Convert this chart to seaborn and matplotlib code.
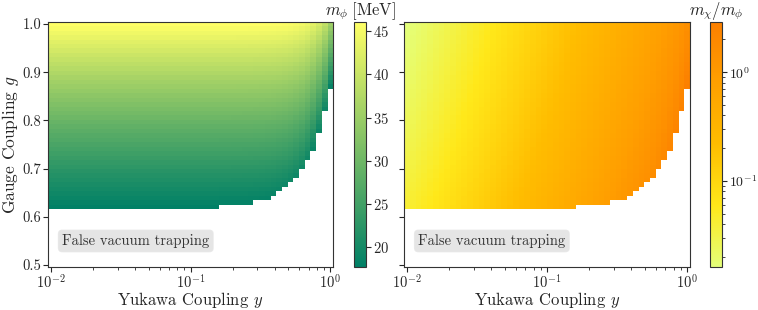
import numpy as np
import matplotlib
matplotlib.use("Agg")
import matplotlib.pyplot as plt
from matplotlib.colors import LogNorm
from matplotlib.ticker import FormatStrFormatter, LogLocator, NullFormatter
import seaborn as sns

# ---------------- data ----------------
# grid: Yukawa coupling (log-spaced columns) and gauge coupling (rows)
yukawa = np.logspace(-2, 0, 50)
gauge = np.linspace(0.5, 1.0, 55)

# index of the lowest non-trapped gauge row for every Yukawa column
first_row = [13] * 30 + [14] * 6 + [15] * 3 + [16, 17, 18, 19, 20, 22, 24, 26, 30, 35, 40]

# m_phi [MeV] at small Yukawa coupling, one value per gauge row
mphi_vs_g = [np.nan] * 13 + [
    17.7, 18.28, 18.82, 19.37, 19.92, 20.49, 21.06, 21.64, 22.23, 22.83,
    23.43, 24.05, 24.67, 25.30, 25.93, 26.58, 27.23, 27.89, 28.56, 29.23,
    29.92, 30.61, 31.31, 32.01, 32.73, 33.45, 34.18, 34.92, 35.67, 36.42,
    37.19, 37.96, 38.74, 39.52, 40.32, 41.12, 41.93, 42.75, 43.57, 44.41,
    45.25, 46.10]

# reduction of m_phi^2 [MeV^2] growing with the Yukawa coupling, per column
mphi_sq_drop = [0.0] * 30 + [
    0.7, 1.0, 1.5, 2.1, 3.1, 4.6, 6.6, 9.7, 14.0, 20.5,
    30.0, 43.0, 63.0, 92.0, 134.0, 196.0, 285.0, 415.0, 604.0, 880.0]

# m_chi [MeV] per Yukawa column
mchi = [
    0.740, 0.808, 0.881, 0.962, 1.050, 1.146, 1.250, 1.364, 1.489, 1.625,
    1.774, 1.936, 2.112, 2.306, 2.516, 2.746, 2.997, 3.270, 3.569, 3.895,
    4.251, 4.639, 5.062, 5.525, 6.029, 6.580, 7.181, 7.836, 8.553, 9.333,
    10.19, 11.12, 12.13, 13.24, 14.45, 15.77, 17.21, 18.78, 20.50, 22.37,
    24.41, 26.65, 29.08, 31.73, 34.63, 37.79, 41.25, 45.01, 49.12, 53.61]

# ---------------- assemble fields ----------------
base = np.array(mphi_vs_g)[:, None] ** 2 - np.array(mphi_sq_drop)[None, :]
rows = np.arange(len(gauge))[:, None]
trapped = rows < np.array(first_row)[None, :]
mphi = np.ma.masked_where(trapped | np.isnan(base), np.sqrt(np.where(base > 0, base, np.nan)))
ratio = np.ma.masked_where(np.ma.getmaskarray(mphi), np.array(mchi)[None, :] / mphi.filled(1.0))

# ---------------- style ----------------
sns.set_style("ticks")
plt.rcParams.update({
    "font.family": "serif",
    "font.serif": ["cmr10", "DejaVu Serif"],
    "mathtext.fontset": "cm",
    "axes.formatter.use_mathtext": True,
    "axes.unicode_minus": False,
    "xtick.labelsize": 10.5,
    "ytick.labelsize": 10.5,
    "xtick.major.size": 3.5,
    "ytick.major.size": 3.5,
    "xtick.minor.size": 2,
    "ytick.minor.size": 2,
    "xtick.major.pad": 1.0,
    "ytick.major.pad": 1.5,
    "axes.edgecolor": "0.2",
    "xtick.color": "0.15",
    "ytick.color": "0.15",
})

cmap_l = sns.color_palette("summer", as_cmap=True)
cmap_r = sns.color_palette("Wistia", as_cmap=True)

fig = plt.figure(figsize=(7.58, 3.10), dpi=100)
bot, hei = 0.138, 0.792
ax1 = fig.add_axes([0.0633, bot, 0.376, hei])
cax1 = fig.add_axes([0.467, bot, 0.0165, hei])
ax2 = fig.add_axes([0.533, bot, 0.377, hei])
cax2 = fig.add_axes([0.9367, bot, 0.0163, hei])

for ax in (ax1, ax2):
    ax.set_xscale("log")

m1 = ax1.pcolormesh(yukawa, gauge, mphi, cmap=cmap_l, shading="nearest",
                    antialiased=True, linewidth=0)
m2 = ax2.pcolormesh(yukawa, gauge, ratio, cmap=cmap_r, shading="nearest",
                    norm=LogNorm(vmin=ratio.min(), vmax=ratio.max()),
                    antialiased=True, linewidth=0)

yt = [0.5, 0.6, 0.7, 0.8, 0.9, 1.0]
for ax in (ax1, ax2):
    ax.set_yticks(yt)
    ax.yaxis.set_major_formatter(FormatStrFormatter("%.1f"))
    ax.set_xlabel(r"Yukawa Coupling $y$", fontsize=12, labelpad=-1)
    ax.text(0.05, 0.107, "False vacuum trapping", transform=ax.transAxes,
            fontsize=10.5, ha="left", va="center", color="0.2",
            bbox=dict(boxstyle="round", facecolor="gray", alpha=0.2))
ax2.set_yticklabels([])
ax1.set_ylabel(r"Gauge Coupling $g$", fontsize=12.5, labelpad=1)

cb1 = fig.colorbar(m1, cax=cax1)
cb1.set_ticks([20, 25, 30, 35, 40, 45])
cb1.ax.tick_params(labelsize=10.5)
cax1.set_title(r"$m_\phi\;[\mathrm{MeV}]$", fontsize=12, pad=4)

cb2 = fig.colorbar(m2, cax=cax2)
cb2.ax.yaxis.set_minor_locator(LogLocator(base=10, subs=np.arange(2, 10)))
cb2.ax.yaxis.set_minor_formatter(NullFormatter())
cb2.ax.tick_params(labelsize=10)
cb2.ax.tick_params(which="minor", length=2)
cax2.set_title(r"$m_\chi/m_\phi$", fontsize=12, pad=4)

fig.savefig("out.png", dpi=100)
